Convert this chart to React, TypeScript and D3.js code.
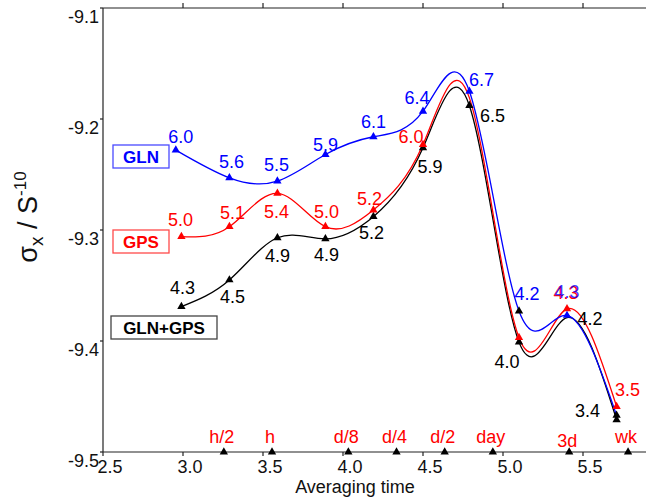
import React from "react";
import * as d3 from "d3";

// ---- data ----
const xGLN = [2.955, 3.29, 3.59, 3.89, 4.19, 4.5, 4.79, 5.1, 5.4, 5.71];
const yGLN = [-9.228, -9.253, -9.256, -9.232, -9.216, -9.193, -9.175, -9.373, -9.377, -9.467];
const labelsGLN = ["6.0", "5.6", "5.5", "5.9", "6.1", "6.4", "6.7", "4.2", "4.3", ""];

const xGPS = [2.99, 3.29, 3.59, 3.89, 4.19, 4.5, 4.79, 5.1, 5.4, 5.71];
const yGPS = [-9.306, -9.297, -9.267, -9.297, -9.282, -9.223, -9.181, -9.397, -9.371, -9.459];
const labelsGPS = ["5.0", "5.1", "5.4", "5.0", "5.2", "6.0", "", "", "4.3", "3.5"];

const xBoth = [2.99, 3.29, 3.59, 3.89, 4.19, 4.5, 4.79, 5.1, 5.4, 5.71];
const yBoth = [-9.369, -9.345, -9.307, -9.308, -9.288, -9.226, -9.188, -9.401, -9.379, -9.471];
const labelsBoth = ["4.3", "4.5", "4.9", "4.9", "5.2", "5.9", "6.5", "4.0", "4.2", "3.4"];

const xTicks = [2.5, 3.0, 3.5, 4.0, 4.5, 5.0, 5.5];
const yTicks = [-9.1, -9.2, -9.3, -9.4, -9.5];

const timeMarks = ["h/2", "h", "d/8", "d/4", "d/2", "day", "3d", "wk"];
const timeSeconds = [1800, 3600, 10800, 21600, 43200, 86400, 259200, 604800];

// ---- layout (label offsets in px, relative to marker) ----
const offGLN = [[5, -13], [2, -16], [-1, -16], [0, -10], [0, -15], [-6, -13], [12, -11], [8, -17], [0, -23], [0, 0]];
const offGPS = [[-1, -17], [3, -14], [-1, 19], [1, -15], [-4, -11], [-12, -8], [0, 0], [0, 0], [-1, -16], [11, -16]];
const offBoth = [[1, -19], [3, 17], [0, 18], [1, 16], [-2, 16], [7, 19], [23, 10], [-12, 20], [23, 1], [-29, -9]];

const fmt = (t: number) => t.toFixed(1);

export default function App() {
  const W = 646, H = 500;
  const x = d3.scaleLinear().domain([2.5, 5.5]).range([103, 583]);
  const y = d3.scaleLinear().domain([-9.5, -9.1]).range([452, 8]);
  const line = d3
    .line<[number, number]>()
    .x((d) => x(d[0]))
    .y((d) => y(d[1]))
    .curve(d3.curveNatural);
  const tri = d3.symbol().type(d3.symbolTriangle).size(30)() as string;
  const font = "Liberation Sans, Arial, sans-serif";

  const series = [
    { xs: xBoth, ys: yBoth, labels: labelsBoth, off: offBoth, color: "#000000", markerColor: (i: number) => "#000000", noMarker: [8] as number[] },
    { xs: xGPS, ys: yGPS, labels: labelsGPS, off: offGPS, color: "#ff0000", markerColor: (i: number) => "#ff0000", noMarker: [6] },
    { xs: xGLN, ys: yGLN, labels: labelsGLN, off: offGLN, color: "#0000ff", markerColor: (i: number) => (i === 7 || i === 9 ? "#000000" : "#0000ff"), noMarker: [] as number[] },
  ];

  const xEnd = 646;

  return (
    <svg
      width={W}
      height={H}
      style={{ position: "absolute", left: 0, top: 0, background: "#fff" }}
      fontFamily={font}
    >
      <rect x={0} y={0} width={W} height={H} fill="#fff" />
      {/* axes frame */}
      <line x1={103} y1={8} x2={xEnd} y2={8} stroke="#222" strokeWidth={1.2} />
      <line x1={103} y1={8} x2={103} y2={452} stroke="#222" strokeWidth={1.2} />
      <line x1={103} y1={452} x2={xEnd} y2={452} stroke="#222" strokeWidth={1.2} />
      {xTicks.map((t) => (
        <g key={"xt" + t}>
          <line x1={x(t)} y1={452} x2={x(t)} y2={456} stroke="#222" strokeWidth={1.2} />
          {t > 2.5 && <line x1={x(t)} y1={8} x2={x(t)} y2={3} stroke="#222" strokeWidth={1.2} />}
          <text x={x(t) + 7} y={467} fontSize={18} textAnchor="middle" dominantBaseline="central" fill="#111">
            {fmt(t)}
          </text>
        </g>
      ))}
      {yTicks.map((t) => (
        <g key={"yt" + t}>
          <line x1={100} y1={y(t)} x2={103} y2={y(t)} stroke="#222" strokeWidth={1.2} />
          <text x={99} y={y(t) + 8.5} fontSize={18} textAnchor="end" dominantBaseline="central" fill="#111">
            {fmt(t)}
          </text>
        </g>
      ))}
      {/* axis labels */}
      <text x={355} y={487} fontSize={18} textAnchor="middle" dominantBaseline="central" fill="#111">
        Averaging time
      </text>
      <text transform="translate(37,217) rotate(-90)" fontSize={27} textAnchor="middle" fill="#111">
        σ<tspan fontSize={19} dy={6}>x</tspan>
        <tspan dy={-6}> / S</tspan>
        <tspan fontSize={17} dy={-11}>-10</tspan>
      </text>

      {/* time markers on the x axis */}
      {timeMarks.map((m, i) => {
        const px = x(Math.log10(timeSeconds[i]));
        return (
          <g key={"tm" + m}>
            <path d={tri} transform={`translate(${px},452)`} fill="#000" />
            <text x={px - 2} y={m === "3d" ? 441 : 437} fontSize={18} textAnchor="middle" dominantBaseline="central" fill="#ff0000">
              {m}
            </text>
          </g>
        );
      })}

      {/* curves */}
      {series.map((s, si) => (
        <path
          key={"c" + si}
          d={line(s.xs.map((v, i) => [v, s.ys[i]] as [number, number])) as string}
          fill="none"
          stroke={s.color}
          strokeWidth={1.3}
        />
      ))}
      {/* markers */}
      {series.map((s, si) => (
        <g key={"m" + si}>
          {s.xs.map((v, i) =>
            s.noMarker.includes(i) ? null : (
              <path key={i} d={tri} transform={`translate(${x(v)},${y(s.ys[i])})`} fill={s.markerColor(i)} />
            )
          )}
        </g>
      ))}
      {/* value labels */}
      {series.map((s, si) => (
        <g key={"l" + si}>
          {s.labels.map((lab, i) =>
            lab ? (
              <text
                key={i}
                x={x(s.xs[i]) + s.off[i][0]}
                y={y(s.ys[i]) + s.off[i][1]}
                fontSize={18}
                textAnchor="middle"
                dominantBaseline="central"
                fill={s.color}
                fillOpacity={si === 2 && i === 8 ? 0.75 : 1}
              >
                {lab}
              </text>
            ) : null
          )}
        </g>
      ))}

      {/* legend boxes */}
      <rect x={113} y={145} width={56} height={23} fill="#fff" stroke="#4a4aff" strokeWidth={1.3} />
      <text x={141} y={157} fontSize={17} fontWeight="bold" textAnchor="middle" dominantBaseline="central" fill="#0000ff">
        GLN
      </text>
      <rect x={113} y={230} width={56} height={23} fill="#fff" stroke="#ff4a4a" strokeWidth={1.3} />
      <text x={141} y={242} fontSize={17} fontWeight="bold" textAnchor="middle" dominantBaseline="central" fill="#ff0000">
        GPS
      </text>
      <rect x={111} y={316} width={106} height={23} fill="#fff" stroke="#444" strokeWidth={1.3} />
      <text x={164} y={328} fontSize={17} fontWeight="bold" textAnchor="middle" dominantBaseline="central" fill="#000">
        GLN+GPS
      </text>
    </svg>
  );
}
